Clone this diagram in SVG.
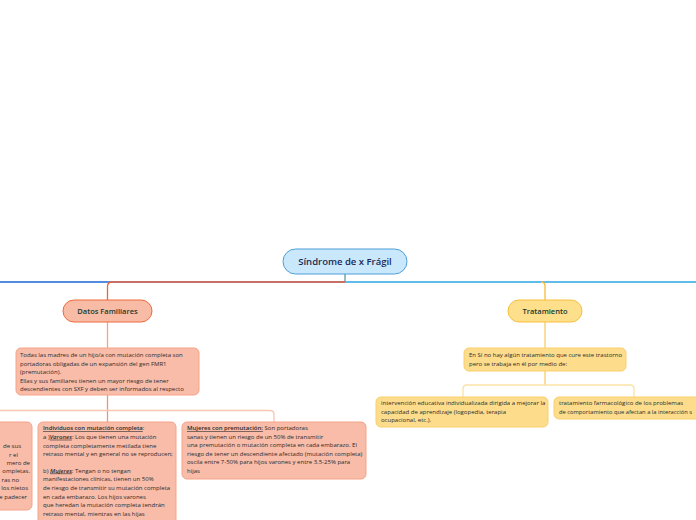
<svg xmlns="http://www.w3.org/2000/svg" width="696" height="520" viewBox="0 0 696 520">
<style>
.t{font-family:"Open Sans","Noto Sans","Liberation Sans",sans-serif;font-size:6px;fill:#2b2b2b}
.n{font-family:"Open Sans","Noto Sans","Liberation Sans",sans-serif;font-weight:600;text-anchor:middle}
.o{fill:#f8bca9;stroke:#f5a388;stroke-width:1}
.y{fill:#fddc8c;stroke:#f9cf6c;stroke-width:1}
.u{text-decoration:underline}
.c{fill:none;stroke-width:1.3}
</style>
<rect width="696" height="520" fill="#ffffff"/>
<g id="connectors">
  <path class="c" d="M0,282 H345" stroke="#1766d6" stroke-width="1.6"/>
  <path class="c" d="M345,282 H696" stroke="#2ba7e3" stroke-width="1.6"/>
  <path class="c" d="M345,274 V282" stroke="#5e9aa6"/>
  <path class="c" d="M345,282 H112 Q107.5,282 107.5,286.5 V300" stroke="#f0643a" stroke-width="1.6"/>
  <path class="c" d="M541,282 Q545,282 545,286 V300" stroke="#f6be3a" stroke-width="1.4"/>
  <path class="c" d="M107.5,322 V348" stroke="#f5a488"/>
  <path class="c" d="M107.5,395 V422" stroke="#f29474"/>
  <path class="c" d="M0,410.5 H270 Q274,410.5 274,414.5 V422" stroke="#f9c6b4"/>
  <path class="c" d="M545,322 V348" stroke="#f7cd6a"/>
  <path class="c" d="M545,371 V385" stroke="#f7cd6a"/>
  <path class="c" d="M463,397 V389 Q463,385 467,385 H630 Q634,385 634,389 V397" stroke="#fbe2a6"/>
</g>
<g id="root">
  <rect x="283" y="249" width="124" height="25" rx="12.5" fill="#c9e8fb" stroke="#4c9fd9" stroke-width="1"/>
  <text class="n" x="345" y="265" font-size="9.5" fill="#1a2a55">Síndrome de x Frágil</text>
</g>
<g id="datos">
  <rect x="63" y="300" width="89" height="22" rx="11" fill="#f7bba6" stroke="#f06a3c" stroke-width="1"/>
  <text class="n" x="107.5" y="314" font-size="7.5" fill="#173a2c">Datos Familiares</text>
</g>
<g id="madres">
  <rect class="o" x="16" y="348" width="183" height="47" rx="5"/>
  <text class="t" x="20"><tspan x="20" y="357">Todas las madres de un hijo/a con mutación completa son</tspan><tspan x="20" y="365.5">portadoras obligadas de un expansión del gen FMR1</tspan><tspan x="20" y="374">(premutación).</tspan><tspan x="20" y="382.5">Ellas y sus familiares tienen un mayor riesgo de tener</tspan><tspan x="20" y="391">descendientes con SXF y deben ser informados al respecto</tspan></text>
</g>
<g id="partial-left">
  <rect class="o" x="-20" y="422" width="52" height="88" rx="5"/>
  <text class="t" text-anchor="end"><tspan x="21" y="448">de sus</tspan><tspan x="18" y="456.5">r el</tspan><tspan x="30" y="465">mero de</tspan><tspan x="30" y="473">ompletas.</tspan><tspan x="19" y="481.5">ras no</tspan><tspan x="28" y="490">los nietos</tspan><tspan x="27" y="498.5">e padecer</tspan></text>
</g>
<g id="individuos">
  <rect class="o" x="38" y="422" width="138" height="110" rx="5"/>
  <text class="t"><tspan x="43" y="430"><tspan class="u" font-weight="600">Individuos con mutación completa</tspan>:</tspan><tspan x="43" y="438.7">a )<tspan class="u" font-style="italic" font-weight="600">Varones</tspan>: Los que tienen una mutación</tspan><tspan x="43" y="447.5">completa completamente metilada tiene</tspan><tspan x="43" y="456.2">retraso mental y en general no se reproducen;</tspan><tspan x="43" y="472.5">b) <tspan class="u" font-style="italic" font-weight="600">Mujeres</tspan>: Tengan o no tengan</tspan><tspan x="43" y="481.2">manifestaciones clínicas, tienen un 50%</tspan><tspan x="43" y="490">de riesgo de transmitir su mutación completa</tspan><tspan x="43" y="498.6">en cada embarazo. Los hijos varones</tspan><tspan x="43" y="507">que heredan la mutación completa tendrán</tspan><tspan x="43" y="515.8">retraso mental, mientras en las hijas</tspan></text>
</g>
<g id="mujeres">
  <rect class="o" x="182" y="422" width="184" height="57" rx="5"/>
  <text class="t"><tspan x="187" y="430"><tspan class="u" font-weight="600">Mujeres con premutación:</tspan> Son portadoras</tspan><tspan x="187" y="438.6">sanas y tienen un riesgo de un 50% de transmitir</tspan><tspan x="187" y="447.4">una premutación o mutación completa en cada embarazo. El</tspan><tspan x="187" y="455.6">riesgo de tener un descendiente afectado (mutación completa)</tspan><tspan x="187" y="464.2">oscila entre 7-50% para hijos varones y entre 3.5-25% para</tspan><tspan x="187" y="472.6">hijas</tspan></text>
</g>
<g id="tratamiento">
  <rect x="508" y="300" width="74" height="22" rx="11" fill="#fddf8c" stroke="#f6c03e" stroke-width="1"/>
  <text class="n" x="545" y="314" font-size="7.5" fill="#173a2c">Tratamiento</text>
</g>
<g id="cura">
  <rect class="y" x="464" y="348" width="162" height="23" rx="5"/>
  <text class="t"><tspan x="469" y="357">En Sí no hay algún tratamiento que cure este trastorno</tspan><tspan x="469" y="365.5">pero se trabaja en él por medio de:</tspan></text>
</g>
<g id="intervencion">
  <rect class="y" x="376" y="397" width="172" height="30" rx="5"/>
  <text class="t"><tspan x="381" y="405">intervención educativa individualizada dirigida a mejorar la</tspan><tspan x="381" y="413.5">capacidad de aprendizaje (logopedia, terapia</tspan><tspan x="381" y="422">ocupacional, etc.).</tspan></text>
</g>
<g id="farmacologico">
  <rect class="y" x="554" y="397" width="160" height="22" rx="5"/>
  <text class="t"><tspan x="559" y="405">tratamiento farmacológico de los problemas</tspan><tspan x="559" y="413.5" textLength="133" lengthAdjust="spacingAndGlyphs">de comportamiento que afectan a la interacción s</tspan></text>
</g>
</svg>
